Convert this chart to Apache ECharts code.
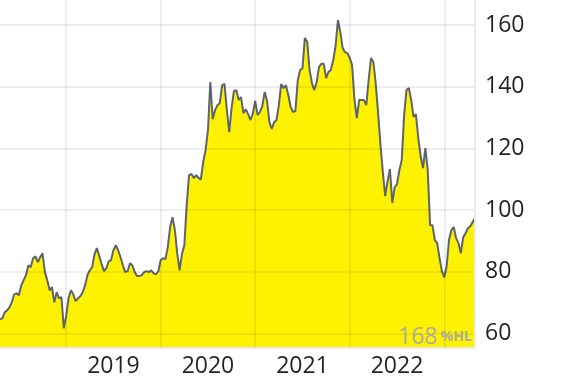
<!DOCTYPE html>
<html>
<head>
<meta charset="utf-8">
<script src="https://cdn.jsdelivr.net/npm/echarts@6/dist/echarts.min.js"></script>
<style>
html,body{margin:0;padding:0;background:#fff;}
#chart{width:570px;height:382px;}
</style>
</head>
<body>
<div id="chart"></div>
<script>
// Price series (roughly every 9 days, Apr 2018 - Apr 2023)
const values = [
  64.6, 64.9, 66.9, 67.5, 68.5, 70.1, 72.7, 73.0, 72.4, 75.6,
  77.3, 78.9, 82.1, 81.5, 84.4, 85.0, 83.1, 84.7, 86.0, 79.9,
  77.3, 74.0, 75.0, 70.1, 73.4, 71.4, 71.8, 61.7, 65.6, 71.4,
  74.0, 72.7, 70.5, 71.4, 72.1, 73.4, 75.6, 78.9, 80.5, 81.5,
  85.7, 87.7, 85.1, 82.5, 80.2, 81.2, 83.4, 83.8, 87.0, 88.6,
  87.0, 84.7, 82.1, 79.9, 80.2, 82.8, 82.1, 79.9, 78.6, 78.6,
  78.9, 79.9, 80.2, 79.9, 80.5, 79.5, 79.2, 80.2, 83.8, 84.4,
  84.1, 88.0, 94.5, 97.7, 93.5, 86.0, 80.5, 85.7, 88.6, 101.6,
  111.3, 111.7, 110.4, 111.3, 110.4, 110.0, 115.6, 119.5, 125.9, 141.5,
  129.5, 132.4, 134.0, 134.7, 140.5, 140.9, 132.4, 125.3, 133.1, 138.6,
  138.9, 135.7, 136.6, 131.4, 132.7, 131.1, 129.2, 131.4, 135.4, 130.8,
  131.8, 133.7, 138.3, 135.4, 128.5, 126.3, 128.5, 129.2, 134.0, 140.9,
  139.5, 140.5, 137.3, 133.4, 131.8, 132.1, 142.1, 145.4, 146.0, 155.8,
  154.5, 145.4, 141.2, 138.9, 141.5, 146.4, 147.4, 147.4, 142.8, 144.8,
  145.4, 148.6, 153.2, 161.6, 157.7, 152.5, 151.2, 150.9, 149.3, 147.0,
  135.7, 129.8, 135.7, 135.7, 135.7, 134.0, 142.1, 149.3, 148.0, 140.9,
  131.5, 121.1, 112.3, 104.5, 109.4, 113.3, 102.3, 107.4, 108.4, 113.0,
  116.2, 130.8, 138.9, 139.6, 135.7, 130.2, 131.1, 123.3, 117.5, 113.6,
  120.1, 113.0, 95.1, 95.1, 90.3, 89.3, 84.4, 80.2, 78.2, 81.8,
  90.3, 93.5, 94.5, 90.9, 89.3, 86.0, 91.2, 92.5, 94.1, 94.8,
  96.1, 97.4
];
const yearLabels = ['2019', '2020', '2021', '2022'];
const pointsPerYear = 40;      // samples per year
const firstYearStartIdx = 28;  // sample index of 1 Jan 2019
const yMin = 55.3;
const yMax = 168.1;
const watermarkValue = '168';
const watermarkUnit = '%HL';

const categories = values.map((_, i) => i);

const chart = echarts.init(document.getElementById('chart'), null, {renderer: 'canvas'});
const gridColor = 'rgba(0,0,0,0.065)';
const font = "'Open Sans', 'Noto Sans', sans-serif";

chart.setOption({
  animation: false,
  backgroundColor: '#ffffff',
  grid: {left: 0, right: 95, top: 0, bottom: 34, containLabel: false},
  xAxis: {
    type: 'category',
    data: categories,
    boundaryGap: false,
    z: 3,
    axisLine: {show: true, lineStyle: {color: '#ebebeb', width: 2}},
    axisTick: {show: false},
    axisLabel: {
      interval: function (idx) {
        const k = idx - firstYearStartIdx - pointsPerYear / 2;
        return k >= 0 && k % pointsPerYear === 0;
      },
      formatter: function (val, idx) {
        const k = (idx - firstYearStartIdx - pointsPerYear / 2) / pointsPerYear;
        return yearLabels[k] || '';
      },
      color: '#1f2326',
      fontSize: 23,
      fontFamily: font,
      margin: 7
    },
    splitLine: {
      show: true,
      interval: function (idx) {
        return idx >= firstYearStartIdx && (idx - firstYearStartIdx) % pointsPerYear === 0;
      },
      lineStyle: {color: gridColor, width: 2}
    }
  },
  yAxis: {
    type: 'value',
    position: 'right',
    min: yMin,
    max: yMax,
    splitNumber: 5,
    z: 3,
    axisLine: {show: true, lineStyle: {color: '#ebebeb', width: 2}},
    axisTick: {show: false},
    axisLabel: {
      color: '#1f2326',
      fontSize: 23,
      fontFamily: font,
      margin: 10,
      showMinLabel: false,
      showMaxLabel: false
    },
    splitLine: {
      show: true,
      showMinLine: false,
      showMaxLine: false,
      lineStyle: {color: gridColor, width: 2}
    }
  },
  series: [{
    type: 'line',
    data: values,
    symbol: 'none',
    smooth: false,
    z: 2,
    lineStyle: {color: '#5d646c', width: 2},
    areaStyle: {color: '#fff200', opacity: 1, origin: 'start'}
  }],
  graphic: [{
    type: 'text',
    x: 472,
    y: 349,
    z: 10,
    style: {
      text: '{a|' + watermarkValue + '}{b|' + watermarkUnit + '}',
      align: 'right',
      verticalAlign: 'bottom',
      rich: {
        a: {fontSize: 23, fontFamily: font, fill: '#a9a9a6', padding: [0, 3, 0, 0]},
        b: {fontSize: 14, fontFamily: font, fontWeight: 'bold', fill: '#a9a9a6'}
      }
    }
  }]
});
</script>
</body>
</html>
